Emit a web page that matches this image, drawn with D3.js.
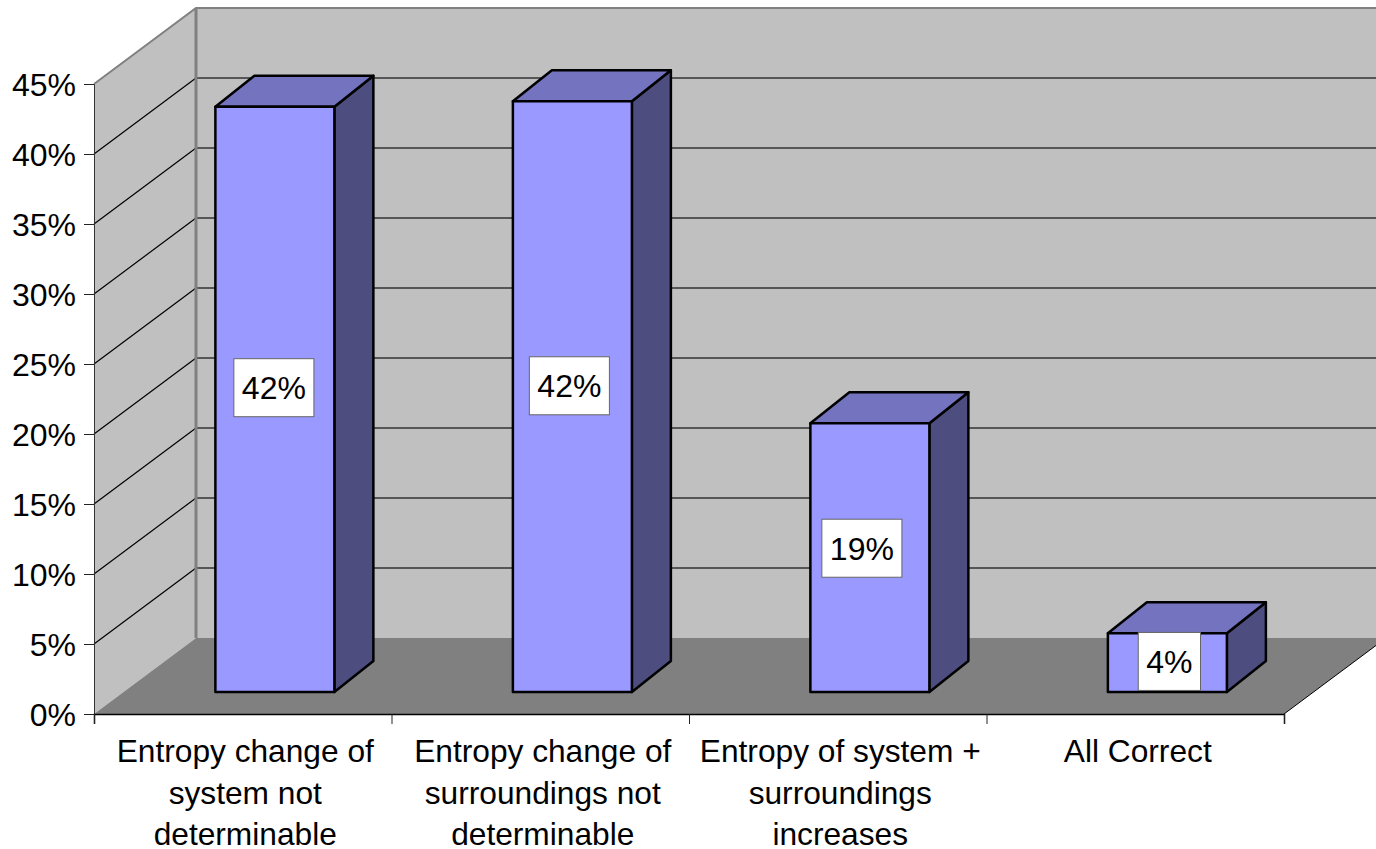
<!DOCTYPE html>
<html>
<head>
<meta charset="utf-8">
<style>
  html, body { margin: 0; padding: 0; background: #fff; overflow: hidden; }
  svg { display: block; }
  text { font-family: "Liberation Sans", Arial, sans-serif; fill: #000; }
</style>
</head>
<body>
<svg id="chart"></svg>
<script src="https://d3js.org/d3.v7.min.js"></script>
<script>
var categories = ["system", "surroundings", "total", "allCorrect"];
var categoryLines = [
  ["Entropy change of", "system not", "determinable"],
  ["Entropy change of", "surroundings not", "determinable"],
  ["Entropy of system +", "surroundings", "increases"],
  ["All Correct"]
];
var values = [41.8, 42.2, 19.2, 4.2];
var valueLabels = ["42%", "42%", "19%", "4%"];
var tickValues = [0, 5, 10, 15, 20, 25, 30, 35, 40, 45];

var svgWidth = 1376, svgHeight = 849;
var wallDx = 102, wallDy = -76;   // front plane to back wall
var barDx = 39, barDy = -31;      // bar depth
var barLift = 22;                 // bars sit a bit back on the floor
var fontSize = 32;

var svg = d3.select("#chart")
  .attr("width", svgWidth)
  .attr("height", svgHeight);

var x = d3.scaleBand().domain(categories).range([94, 1284]);
var y = d3.scaleLinear().domain([0, 45]).range([714, 84]);

var left = x.range()[0], right = x.range()[1];
var y0 = y(0), yTop = y(45);

function pts(a) { return a.map(function(p) { return p.join(","); }).join(" "); }

// side wall
svg.append("polygon")
  .attr("points", pts([[left, y0], [left, yTop], [left + wallDx, yTop + wallDy], [left + wallDx, y0 + wallDy]]))
  .attr("fill", "#c0c0c0");

// back wall
svg.append("rect")
  .attr("x", left + wallDx)
  .attr("y", yTop + wallDy)
  .attr("width", svgWidth - left - wallDx)
  .attr("height", y0 - yTop)
  .attr("fill", "#c0c0c0");

// grid lines
var grid = tickValues.slice(1, -1);
svg.selectAll("line.side")
  .data(grid)
  .enter()
  .append("line")
  .attr("class", "side")
  .attr("x1", left)
  .attr("y1", function(d) { return y(d); })
  .attr("x2", left + wallDx)
  .attr("y2", function(d) { return y(d) + wallDy; })
  .attr("stroke", "#000")
  .attr("stroke-width", 1.2);

svg.selectAll("line.back")
  .data(grid)
  .enter()
  .append("line")
  .attr("class", "back")
  .attr("x1", left + wallDx)
  .attr("y1", function(d) { return y(d) + wallDy; })
  .attr("x2", svgWidth)
  .attr("y2", function(d) { return y(d) + wallDy; })
  .attr("stroke", "#333")
  .attr("stroke-width", 1.3);

// wall outline
svg.append("polyline")
  .attr("points", pts([[left, yTop], [left + wallDx, yTop + wallDy], [svgWidth, yTop + wallDy]]))
  .attr("fill", "none")
  .attr("stroke", "#808080")
  .attr("stroke-width", 2);
svg.append("line")
  .attr("x1", left + wallDx).attr("x2", left + wallDx)
  .attr("y1", yTop + wallDy).attr("y2", y0 + wallDy)
  .attr("stroke", "#808080")
  .attr("stroke-width", 3);

// floor
svg.append("polygon")
  .attr("points", pts([[left, y0], [right, y0], [right + wallDx, y0 + wallDy], [left + wallDx, y0 + wallDy]]))
  .attr("fill", "#808080");
svg.append("line")
  .attr("x1", right).attr("y1", y0)
  .attr("x2", right + wallDx).attr("y2", y0 + wallDy)
  .attr("stroke", "#000")
  .attr("stroke-width", 1);

// bars
var barWidth = x.bandwidth() * 0.4;
var barInset = x.bandwidth() * 0.408;

var bars = svg.selectAll("g.bar")
  .data(categories)
  .enter()
  .append("g")
  .attr("class", "bar")
  .attr("stroke", "#000")
  .attr("stroke-width", 2.5)
  .attr("stroke-linejoin", "round");

function barLeft(c) { return x(c) + barInset; }
function barTop(i) { return y(values[i]) - barLift; }
var barBottom = y0 - barLift;

bars.append("polygon")
  .attr("fill", "#4d4d80")
  .attr("points", function(c, i) {
    var r = barLeft(c) + barWidth;
    return pts([[r, barBottom], [r, barTop(i)], [r + barDx, barTop(i) + barDy], [r + barDx, barBottom + barDy]]);
  });

bars.append("polygon")
  .attr("fill", "#7373bf")
  .attr("points", function(c, i) {
    var l = barLeft(c), t = barTop(i);
    return pts([[l, t], [l + barDx, t + barDy], [l + barWidth + barDx, t + barDy], [l + barWidth, t]]);
  });

bars.append("rect")
  .attr("fill", "#9999ff")
  .attr("x", barLeft)
  .attr("y", function(c, i) { return barTop(i); })
  .attr("width", barWidth)
  .attr("height", function(c, i) { return barBottom - barTop(i); });

// value labels, the original boxes are not quite centred on their bars
var labelNudgeX = [-1, -3, -8, 2];
var labelNudgeY = [0, 1, -4, 0];

var labels = svg.selectAll("g.label")
  .data(categories)
  .enter()
  .append("g")
  .attr("class", "label")
  .attr("transform", function(c, i) {
    var cy = y(values[i] * 0.52) - barLift + labelNudgeY[i];
    return "translate(" + (barLeft(c) + barWidth / 2 + labelNudgeX[i]) + "," + cy + ")";
  });

var labelText = labels.append("text")
  .attr("text-anchor", "middle")
  .attr("y", fontSize * 0.36)
  .attr("font-size", fontSize)
  .text(function(c, i) { return valueLabels[i]; });

labels.insert("rect", "text")
  .attr("fill", "#fff")
  .attr("stroke", "#666")
  .attr("stroke-width", 1)
  .attr("y", -29)
  .attr("height", 58)
  .attr("x", function(c, i) { return -labelText.nodes()[i].getComputedTextLength() / 2 - 8; })
  .attr("width", function(c, i) { return labelText.nodes()[i].getComputedTextLength() + 16; });

// y axis
var yAxis = d3.axisLeft(y)
  .tickValues(tickValues)
  .tickFormat(function(d) { return d + "%"; })
  .tickSize(10)
  .tickPadding(8);

var yG = svg.append("g")
  .attr("transform", "translate(" + left + ",0)")
  .call(yAxis);
yG.select(".domain").attr("stroke", "#333").attr("stroke-width", 1);
yG.selectAll(".tick line").attr("stroke", "#222");
yG.selectAll("text")
  .attr("y", 1)
  .attr("font-family", "Liberation Sans, Arial, sans-serif")
  .attr("font-size", fontSize);

// x axis
var xAxis = d3.axisBottom(d3.scaleLinear().domain([0, categories.length]).range([left, right]))
  .ticks(categories.length)
  .tickSize(10)
  .tickFormat("");

var xG = svg.append("g")
  .attr("transform", "translate(0," + y0 + ")")
  .call(xAxis);
xG.select(".domain").attr("stroke", "#000").attr("stroke-width", 1.5);
xG.selectAll(".tick line").attr("stroke", "#222");

// category labels
svg.selectAll("text.cat")
  .data(categories)
  .enter()
  .append("text")
  .attr("class", "cat")
  .attr("text-anchor", "middle")
  .attr("font-size", 31.7)
  .each(function(c, i) {
    d3.select(this).selectAll("tspan")
      .data(categoryLines[i])
      .enter()
      .append("tspan")
      .attr("x", x(c) + x.bandwidth() / 2 + 2.5)
      .attr("y", function(d, j) { return 762 + j * 41.5; })
      .text(function(d) { return d; });
  });
</script>
</body>
</html>
